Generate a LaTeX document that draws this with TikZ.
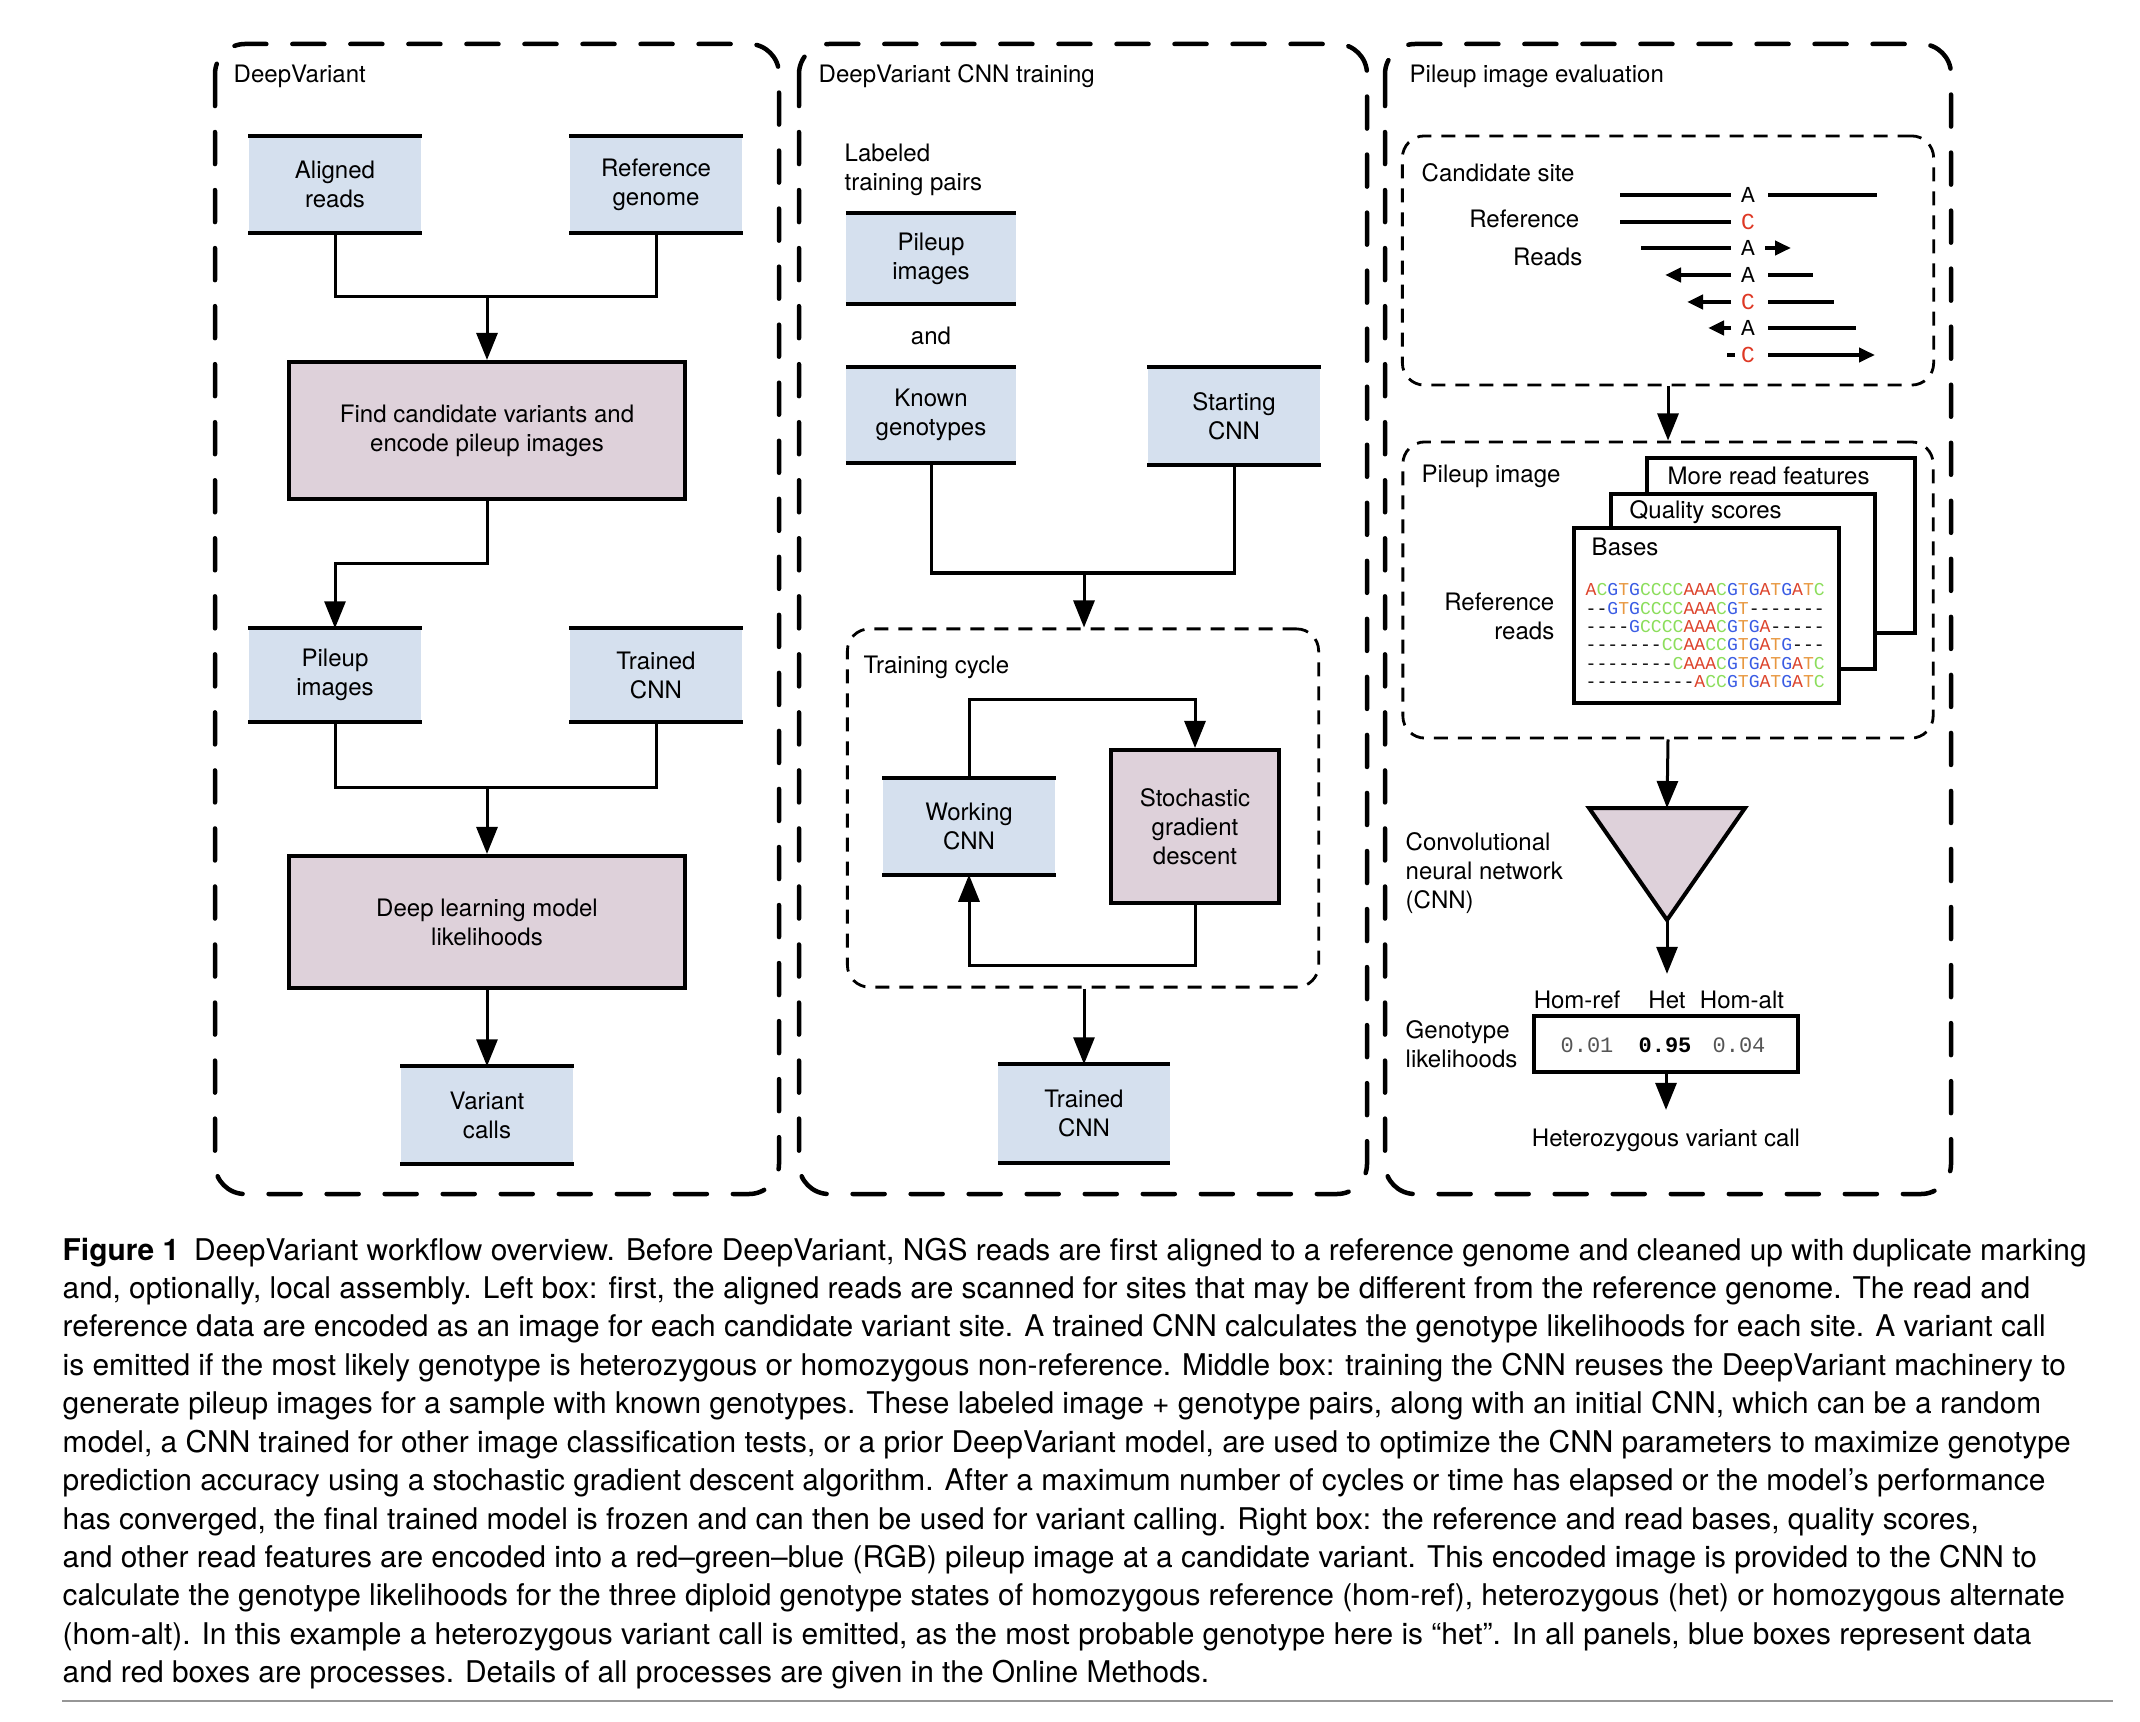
\documentclass[tikz,border=0pt]{standalone}
\usepackage{fontspec}
\setmainfont{TeX Gyre Heros}
\setmonofont{Liberation Mono}
\usetikzlibrary{arrows.meta,positioning}

\definecolor{datablue}{RGB}{213,224,238}
\definecolor{procmauve}{RGB}{222,209,218}
\definecolor{baseA}{RGB}{221,68,44}
\definecolor{baseC}{RGB}{140,222,92}
\definecolor{baseG}{RGB}{58,92,228}
\definecolor{baseT}{RGB}{232,152,64}
\definecolor{altred}{RGB}{222,56,36}
\definecolor{lightnum}{RGB}{85,85,85}
\definecolor{rulegray}{RGB}{150,150,150}

\newcommand\lblsize{\fontsize{6.83pt}{8.25pt}\selectfont}
\newcommand\basesize{\fontsize{6.5pt}{6.5pt}\selectfont\ttfamily}
\newcommand\seqsize{\fontsize{5.15pt}{5.2pt}\selectfont\ttfamily}
\newcommand\numsize{\fontsize{6.26pt}{6.3pt}\selectfont\ttfamily}
\newcommand\capsize{\fontsize{8.5pt}{10.93pt}\selectfont}

% one coloured letter per base
\def\basecol#1{\if#1A\textcolor{baseA}{A}\else\if#1C\textcolor{baseC}{C}\else
  \if#1G\textcolor{baseG}{G}\else\if#1T\textcolor{baseT}{T}\else#1\fi\fi\fi\fi}
\def\doseq#1{\ifx#1\relax\else\basecol{#1}\expandafter\doseq\fi}
\newcommand\baseseq[1]{\expandafter\doseq#1\relax}

\tikzset{
  datanode/.style={fill=datablue, minimum width=1.72cm, minimum height=0.95cm,
    inner sep=0pt, align=center, font=\lblsize},
  procnode/.style={draw, line width=0.04cm, fill=procmauve, minimum width=3.96cm,
    minimum height=1.37cm, inner sep=0pt, align=center, font=\lblsize},
  rulebar/.style={line width=0.04cm},
  link/.style={line width=0.03cm},
  flow/.style={link, -{Triangle[length=0.27cm,width=0.21cm]}},
  panel/.style={line width=0.045cm, dash pattern=on 0.32cm off 0.26cm,
    line cap=round, rounded corners=0.3cm},
  subpanel/.style={draw, line width=0.028cm, dash pattern=on 0.14cm off 0.1cm,
    rounded corners=0.22cm, inner sep=0pt},
  lbl/.style={font=\lblsize, inner sep=0pt, align=left},
  base/.style={font=\basesize, inner sep=0pt},
  readline/.style={line width=0.045cm},
  readarrow/.style={readline, -{Triangle[length=0.16cm,width=0.14cm]}},
  layer/.style={draw, fill=white, line width=0.04cm},
}

\begin{document}
\begin{tikzpicture}[x=0.01cm, y=-0.01cm]
    \useasboundingbox (0,0) rectangle (2140,1722);

    % DeepVariant panel
    \draw[panel] (215,44) rectangle (779,1194);
    \node[lbl, anchor=west] (dvtitle) at (233,76) {DeepVariant};
    \node[datanode] (aligned) at (335,184.5) {Aligned\\reads};
    \node[datanode] (refgen) at (656,184.5) {Reference\\genome};
    \node[procnode] (findcand) at (487,430.5) {Find candidate variants and\\encode pileup images};
    \node[datanode, minimum height=0.92cm] (pileupA) at (335,675) {Pileup\\images};
    \node[datanode, minimum height=0.92cm] (trainedA) at (656,675) {Trained\\CNN};
    \node[procnode, minimum height=1.32cm] (deeplik) at (487,922) {Deep learning model\\likelihoods};
    \node[datanode, minimum height=0.96cm] (calls) at (487,1115) {Variant\\calls};

    \coordinate (joinA) at (487,297);
    \coordinate (joinB) at (487,787);
    \draw[link] (aligned.south) |- (joinA) -| (refgen.south);
    \draw[flow] (joinA) -- (findcand.north);
    \draw[flow] (findcand.south) -- ++(0,62) -| (pileupA.north);
    \draw[link] (pileupA.south) |- (joinB) -| (trainedA.south);
    \draw[flow] (joinB) -- (deeplik.north);
    \draw[flow] (deeplik.south) -- (calls.north);

    % CNN training panel
    \draw[panel] (799,44) rectangle (1367,1194);
    \node[lbl, anchor=west] (traintitle) at (818,76) {DeepVariant CNN training};
    \node[lbl, anchor=west] (pairs) at (844,169.5) {Labeled\\training pairs};
    \node[datanode, minimum width=1.69cm, minimum height=0.89cm] (pileupB) at (931,258.5) {Pileup\\images};
    \node[lbl] (andlbl) at (931,336) {and};
    \node[datanode, minimum width=1.69cm, minimum height=0.94cm] (known) at (931,415) {Known\\genotypes};
    \node[datanode, minimum height=0.96cm] (startcnn) at (1234,416) {Starting\\CNN};
    \node[subpanel, minimum width=4.71cm, minimum height=3.58cm] (cycle) at (1083,808) {};
    \node[lbl, anchor=west] (cycletitle) at (863,667) {Training cycle};
    \node[datanode] (working) at (969,826.5) {Working\\CNN};
    \node[procnode, minimum width=1.68cm, minimum height=1.53cm] (sgd) at (1195,826.5) {Stochastic\\gradient\\descent};
    \node[datanode, minimum width=1.71cm, minimum height=0.97cm] (trainedB) at (1084,1113.5) {Trained\\CNN};

    \coordinate (joinC) at (1084,573);
    \draw[link] (known.south) |- (joinC) -| (startcnn.south);
    \draw[flow] (joinC) -- (joinC |- cycle.north);
    \draw[flow] (working.north) -- ++(0,-79) -| (sgd.north);
    \draw[flow] (sgd.south) -- ++(0,60) -| (working.south);
    \draw[flow] (trainedB |- cycle.south) -- (trainedB.north);

    % bars above and below the data boxes
    \foreach \n in {aligned,refgen,pileupA,trainedA,calls,pileupB,known,startcnn,working,trainedB}
        \draw[rulebar] (\n.north west) -- (\n.north east) (\n.south west) -- (\n.south east);

    % Pileup image evaluation panel
    \draw[panel] (1385,44) rectangle (1951,1194);
    \node[lbl, anchor=west] (evaltitle) at (1409,76) {Pileup image evaluation};

    % candidate site
    \node[subpanel, minimum width=5.31cm, minimum height=2.49cm] (site) at (1668,260.5) {};
    \node[lbl, anchor=west] (sitetitle) at (1421,173) {Candidate site};
    \node[lbl, anchor=east] (reflbl) at (1580,219) {Reference};
    \node[lbl, anchor=east] (readslbl) at (1583,257) {Reads};
    \foreach \b/\c/\y in {A/black/195, C/altred/222, A/black/248, A/black/275,
                          C/altred/302, A/black/328, C/altred/355}
        \node[base, text=\c] at (1748,\y) {\b};
    \draw[readline] (1620,195) -- (1731,195) (1768,195) -- (1877,195); % reference
    \draw[readline] (1620,222) -- (1731,222);
    \draw[readline] (1641,248) -- (1731,248); % reads
    \draw[readarrow] (1765,248) -- (1791,248);
    \draw[readarrow] (1731,275) -- (1665,275);
    \draw[readline] (1768,275) -- (1813,275);
    \draw[readarrow] (1731,302) -- (1687,302);
    \draw[readline] (1768,302) -- (1834,302);
    \draw[readarrow] (1731,328) -- (1708,328);
    \draw[readline] (1768,328) -- (1856,328);
    \draw[readline] (1727,355) -- (1735,355);
    \draw[readarrow] (1768,355) -- (1875,355);

    % pileup image
    \node[subpanel, minimum width=5.30cm, minimum height=2.96cm] (pileimg) at (1668,590) {};
    \node[lbl, anchor=west] (imgtitle) at (1421,476) {Pileup image};
    \draw[layer] (1647,458) rectangle (1915,633);
    \draw[layer] (1611,494) rectangle (1875,669);
    \draw[layer] (1574,528) rectangle (1839,703);
    \node[lbl, anchor=west] (featlbl) at (1667,476) {More read features};
    \node[lbl, anchor=west] (quallbl) at (1629,512) {Quality scores};
    \node[lbl, anchor=west] (baselbl) at (1591,547) {Bases};
    \node[lbl, anchor=east, align=right] (refreads) at (1555,616) {Reference\\reads};
    \foreach \s [count=\i from 0] in {ACGTGCCCCAAACGTGATGATC, --GTGCCCCAAACGT-------,
        ----GCCCCAAACGTGA-----, -------CCAACCGTGATG---, --------CAAACGTGATGATC,
        ----------ACCGTGATGATC}
        \node[font=\seqsize, inner sep=0pt, anchor=west] at (1585,{590+18.3*\i}) {\baseseq{\s}};
    \draw[flow] (site.south) -- (pileimg.north);

    % CNN
    \coordinate (cnntop) at (1667,808);
    \coordinate (cnntip) at (1667,920);
    \draw[layer, fill=procmauve] (1589,808) -- (1745,808) -- (cnntip) -- cycle;
    \draw[flow] (pileimg.south) -- (cnntop);
    \node[lbl, anchor=west] (cnnlbl) at (1405,873) {Convolutional\\neural network\\(CNN)};

    % genotype likelihoods
    \node[lbl] (homref) at (1577,1000) {Hom-ref};
    \node[lbl, inner ysep=0.165cm] (het) at (1667,1000) {Het};
    \node[lbl] (homalt) at (1742,1000) {Hom-alt};
    \draw[flow] (cnntip) -- (het.north);
    \node[draw, line width=0.04cm, minimum width=2.64cm, minimum height=0.56cm] (lik) at (1666,1044) {};
    \node[font=\numsize, text=lightnum, inner sep=0pt] (pref) at (1587,1045) {0.01};
    \node[font=\numsize\bfseries, inner sep=0pt] (phet) at (1665,1045) {0.95};
    \node[font=\numsize, text=lightnum, inner sep=0pt] (palt) at (1739,1045) {0.04};
    \node[lbl, anchor=west] (liklbl) at (1405,1044) {Genotype\\likelihoods};
    \node[lbl, inner ysep=0.18cm] (hetcall) at (1666,1140) {Heterozygous variant call};
    \draw[flow] (lik.south) -- (hetcall.north);

    % caption
    \node[font=\capsize, inner sep=0pt, anchor=north west, align=left] (caption) at (62,1237) {%
        \textbf{Figure 1}\enspace DeepVariant workflow overview. Before DeepVariant, NGS reads are first aligned to a reference genome and cleaned up with duplicate marking\\
        and, optionally, local assembly. Left box: first, the aligned reads are scanned for sites that may be different from the reference genome. The read and\\
        reference data are encoded as an image for each candidate variant site. A trained CNN calculates the genotype likelihoods for each site. A variant call\\
        is emitted if the most likely genotype is heterozygous or homozygous non-reference. Middle box: training the CNN reuses the DeepVariant machinery to\\
        generate pileup images for a sample with known genotypes. These labeled image + genotype pairs, along with an initial CNN, which can be a random\\
        model, a CNN trained for other image classification tests, or a prior DeepVariant model, are used to optimize the CNN parameters to maximize genotype\\
        prediction accuracy using a stochastic gradient descent algorithm. After a maximum number of cycles or time has elapsed or the model’s performance\\
        has converged, the final trained model is frozen and can then be used for variant calling. Right box: the reference and read bases, quality scores,\\
        and other read features are encoded into a red–green–blue (RGB) pileup image at a candidate variant. This encoded image is provided to the CNN to\\
        calculate the genotype likelihoods for the three diploid genotype states of homozygous reference (hom-ref), heterozygous (het) or homozygous alternate\\
        (hom-alt). In this example a heterozygous variant call is emitted, as the most probable genotype here is “het”. In all panels, blue boxes represent data\\
        and red boxes are processes. Details of all processes are given in the Online Methods.};
    \draw[rulegray, line width=0.02cm] (62,1701) -- (2113,1701);
\end{tikzpicture}
\end{document}
